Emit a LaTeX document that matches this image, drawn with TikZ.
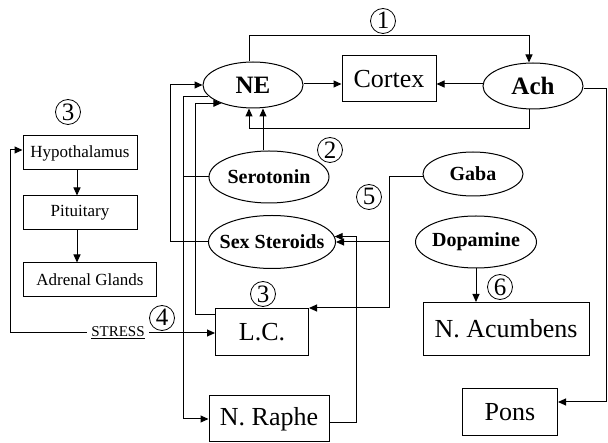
\documentclass[tikz,border=0pt]{standalone}
\usepackage{fontspec}
\setmainfont{Liberation Serif}
\usetikzlibrary{shapes.geometric,arrows.meta}
\begin{document}
\begin{tikzpicture}[x=1pt,y=-1pt,
  line width=1pt,
  arr/.style={-{Triangle[length=8pt,width=7pt]}},
  ell/.style={draw,ellipse,inner sep=0pt,font=\fontsize{20}{22}\selectfont\bfseries},
  bigell/.style={ell,font=\fontsize{25}{28}\selectfont\bfseries},
  bigbox/.style={draw,rectangle,inner sep=0pt,font=\fontsize{26}{30}\selectfont},
  smallbox/.style={draw,rectangle,inner sep=0pt,minimum height=34pt,font=\fontsize{17}{20}\selectfont},
  num/.style={draw,circle,line width=0.8pt,inner sep=0pt,minimum size=25pt,font=\fontsize{25}{26}\selectfont}
]
\useasboundingbox (0,0) rectangle (608,443);

% ellipses
\node[bigell,minimum width=100pt,minimum height=46pt] (NE) at (253,85) {\makebox[0pt][c]{NE}};
\node[bigell,minimum width=100pt,minimum height=46pt] (Ach) at (533,86) {\makebox[0pt][c]{Ach}};
\node[ell,minimum width=120pt,minimum height=52pt] (Sero) at (269,177) {\makebox[0pt][c]{Serotonin}};
\node[ell,minimum width=127pt,minimum height=53pt] (Sex) at (272,242) {\makebox[0pt][c]{Sex Steroids}};
\node[ell,minimum width=100pt,minimum height=44pt] (Gaba) at (473,174) {\makebox[0pt][c]{Gaba}};
\node[ell,minimum width=121pt,minimum height=52pt] (Dopa) at (476,242) {\makebox[0pt][c]{Dopamine}};

% boxes
\node[bigbox,minimum width=94pt,minimum height=46pt] (Cortex) at (389,79) {Cortex};
\node[bigbox,minimum width=93pt,minimum height=47pt] (LC) at (262,332) {L.C.};
\node[bigbox,minimum width=120pt,minimum height=46pt] (Raphe) at (269,419) {N. Raphe};
\node[bigbox,minimum width=166pt,minimum height=53pt] (NAcc) at (506,329) {N. Acumbens};
\node[bigbox,minimum width=95pt,minimum height=47pt] (Pons) at (510,412) {Pons};

\node[smallbox,minimum width=114pt] (Hypo) at (80,153) {Hypothalamus};
\node[smallbox,minimum width=114pt] (Pit) at (80,213) {Pituitary};
\node[smallbox,minimum width=133pt] (Adr) at (90,280) {Adrenal Glands};

\node[inner sep=4pt,font=\fontsize{15}{17}\selectfont] (stress) at (118,333) {\underline{STRESS}};

% circled numbers
\node[num] (c1) at (383,21) {\raisebox{0.5pt}{1}};
\node[num] (c2) at (330,150) {\raisebox{0.5pt}{2}};
\node[num] (c5) at (369,197) {\raisebox{0.5pt}{5}};
\node[num] (c3a) at (68,112) {\raisebox{0.5pt}{3}};
\node[num] (c3b) at (263,294) {\raisebox{0.5pt}{3}};
\node[num] (c4) at (162,318) {\raisebox{0.5pt}{4}};
\node[num] (c6) at (500,287) {\raisebox{0.5pt}{6}};

% helper coordinates
\coordinate (ytop) at (0,36);
\coordinate (ybot) at (0,129);
\coordinate (xa) at (170,0);
\coordinate (xb) at (183,0);
\coordinate (xl) at (10,0);
\coordinate (xg) at (389,0);
\coordinate (xr) at (356,0);
\coordinate (xe) at (606.5,0);
\coordinate (neE) at ([yshift=1pt]NE.east);
\coordinate (achW) at ([yshift=2pt]Ach.west);
\coordinate (neN) at ([xshift=-4pt]NE.north);
\coordinate (achN) at ([xshift=-4pt]Ach.north);
\coordinate (achS) at ([xshift=-4pt]Ach.south);
\coordinate (neS) at ([xshift=-4pt]NE.south);
\coordinate (neS2) at ([xshift=10pt]NE.south);
\coordinate (seroN) at ([xshift=-6pt]Sero.north);
\coordinate (lcNW) at ([yshift=-7pt]LC.north west);
\coordinate (hypS) at ([xshift=-3pt]Hypo.south);
\coordinate (pitN) at ([xshift=-3pt]Pit.north);
\coordinate (pitS) at ([xshift=-3pt]Pit.south);
\coordinate (hypW) at ([yshift=3pt]Hypo.west);
\coordinate (gabaW) at ([yshift=-3pt]Gaba.west);
\coordinate (rapE) at ([yshift=-4pt]Raphe.east);
\coordinate (achE) at ([yshift=-3pt]Ach.east);
\coordinate (ponsE) at ([yshift=10pt]Pons.east);

% top region
\draw[arr] (neE) -- (Cortex.west |- neE);
\draw[arr] (achW) -- (Cortex.east |- achW);
\draw[arr] (neN) -- (neN |- ytop) -- (achN |- ytop) -- (achN);
\draw[arr] (achS) -- (achS |- ybot) -- (neS |- ybot) -- (neS);
\draw[arr] (seroN) -- (neS2);

% left feedback lines
\draw[arr] (Sex.west) -- (Sex.west -| xa) |- (NE.west);
\draw[arr] (NE.194) -- (NE.194 -| xb) |- (Raphe.west);
\draw (Sero.west) -- (Sero.west -| xb);
\draw[arr] (lcNW) -- ++(-20,0) |- (NE.210);

% hypothalamus chain
\draw[arr] (hypS) -- (pitN);
\draw[arr] (pitS) -- (pitS |- Adr.north);

% stress
\draw[arr] (stress.west) -- (stress.west -| xl) |- (hypW);
\draw[arr] (stress.east) -- (LC.west |- stress.east);

% gaba
\draw[arr] (gabaW) -| (LC.north east -| xg) -- (LC.north east);
\draw[arr] (Sex.east -| xg) -- (Sex.east);

% raphe to sex steroids
\draw[arr] (rapE) -| (xr |- Sex.5) -- (Sex.5);

% dopamine
\draw[arr] (Dopa.south) -- (Dopa.south |- NAcc.north);

% ach to pons
\draw[arr] (achE) -- (achE -| xe) |- (ponsE);
\end{tikzpicture}
\end{document}
